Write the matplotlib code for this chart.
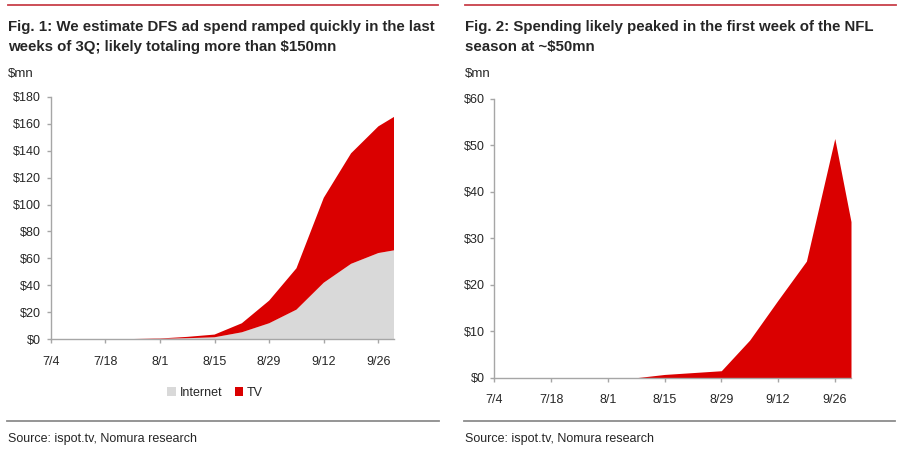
import matplotlib
matplotlib.use("Agg")
import matplotlib.pyplot as plt
import pandas as pd
from matplotlib import font_manager
from matplotlib.patches import Rectangle
from matplotlib.lines import Line2D

# ---------------- data ----------------
week_labels = ["7/4", "7/11", "7/18", "7/25", "8/1", "8/8", "8/15", "8/22",
               "8/29", "9/5", "9/12", "9/19", "9/26", "9/30"]
internet_cum = [0, 0, 0, 0, 0.3, 0.8, 1.5, 5.2, 11.9, 22, 42, 56, 64, 66]
tv_cum = [0, 0, 0, 0.2, 0.3, 1.0, 2.0, 6.7, 16.8, 30.7, 63, 82, 94, 99]
weekly_spend = [0, 0, 0, 0, 0, 0, 0.7, 1.1, 1.5, 8.1, 16.7, 25.1, 51.5, 33.6]
tick_labels = ["7/4", "7/18", "8/1", "8/15", "8/29", "9/12", "9/26"]
left_yticks = [0, 20, 40, 60, 80, 100, 120, 140, 160, 180]
right_yticks = [0, 10, 20, 30, 40, 50, 60]
series_names = ["Internet", "TV"]

title1 = ["Fig. 1: We estimate DFS ad spend ramped quickly in the last",
          "weeks of 3Q; likely totaling more than $150mn"]
title2 = ["Fig. 2: Spending likely peaked in the first week of the NFL",
          "season at ~$50mn"]
unit_label = "$mn"
source_text = "Source: ispot.tv, Nomura research"

# ---------------- fonts ----------------
avail = {f.name for f in font_manager.fontManager.ttflist}
NARROW = "Liberation Sans Narrow" if "Liberation Sans Narrow" in avail else "Liberation Sans"
plt.rcParams["font.family"] = [NARROW, "DejaVu Sans"]

RED = "#DA0000"
GRAY_FILL = "#D9D9D9"
AXIS = "#A6A6A6"
TXT = "#262626"

W, H = 900, 450
fig = plt.figure(figsize=(9, 4.5), dpi=100)
fig.patch.set_facecolor("white")

def fx(px):
    return px / W

def fy(py):
    return 1 - py / H

dates = pd.to_datetime(["2015/" + d for d in week_labels])
tick_dates = pd.to_datetime(["2015/" + d for d in tick_labels])

def style_axes(ax, yticks, ylim):
    for s in ["top", "right"]:
        ax.spines[s].set_visible(False)
    for s in ["left", "bottom"]:
        ax.spines[s].set_color(AXIS)
        ax.spines[s].set_linewidth(1.0)
    ax.set_xlim(dates[0], dates[-1])
    ax.set_ylim(*ylim)
    ax.set_xticks(tick_dates)
    ax.set_xticklabels(tick_labels)
    ax.set_yticks(yticks)
    ax.set_yticklabels(["$" + str(v) for v in yticks])
    ax.tick_params(axis="both", colors=AXIS, labelcolor=TXT, labelsize=9,
                   length=3, width=1.0, direction="out")
    ax.tick_params(axis="x", pad=9)
    ax.tick_params(axis="y", pad=4)
    ax.set_facecolor("white")

# ---------------- left chart ----------------
axL = fig.add_axes([fx(50.7), fy(339.3), fx(394) - fx(50.7), fy(96.7) - fy(339.3)])
axL.stackplot(dates, internet_cum, tv_cum, colors=[GRAY_FILL, RED],
              labels=series_names, linewidth=0)
style_axes(axL, left_yticks, (0, 180))

handles = [Rectangle((0, 0), 1, 1, facecolor=GRAY_FILL, edgecolor="none"),
           Rectangle((0, 0), 1, 1, facecolor=RED, edgecolor="none")]
fig.legend(handles, series_names, loc="center", bbox_to_anchor=(fx(215), fy(393)),
           ncol=2, frameon=False, fontsize=9, handlelength=0.7, handleheight=0.7,
           handletextpad=0.3, columnspacing=1.0, labelcolor=TXT)

# ---------------- right chart ----------------
axR = fig.add_axes([fx(494.3), fy(377.7), fx(851) - fx(494.3), fy(99) - fy(377.7)])
axR.fill_between(dates, 0, weekly_spend, color=RED, linewidth=0)
style_axes(axR, right_yticks, (0, 60))

# ---------------- decorations ----------------
for x0, x1 in [(8, 438), (465, 896)]:
    fig.add_artist(Line2D([fx(x0), fx(x1)], [fy(5), fy(5)], color="#C8404A",
                          linewidth=1.3, transform=fig.transFigure))
for x0, x1 in [(7, 439), (464, 895)]:
    fig.add_artist(Line2D([fx(x0), fx(x1)], [fy(421), fy(421)], color="#8C8C8C",
                          linewidth=1.3, transform=fig.transFigure))

for xpx, lines in [(8, title1), (465, title2)]:
    fig.text(fx(xpx), fy(30.7), lines[0], fontsize=10.8, fontweight="bold",
             color=TXT, va="baseline", ha="left")
    fig.text(fx(xpx), fy(50.7), lines[1], fontsize=10.8, fontweight="bold",
             color=TXT, va="baseline", ha="left")
    fig.text(fx(xpx), fy(77), unit_label, fontsize=9.5, color=TXT,
             va="baseline", ha="left")
    fig.text(fx(xpx), fy(442), source_text, fontsize=9, color=TXT,
             va="baseline", ha="left")

fig.savefig("out.png", dpi=100)
